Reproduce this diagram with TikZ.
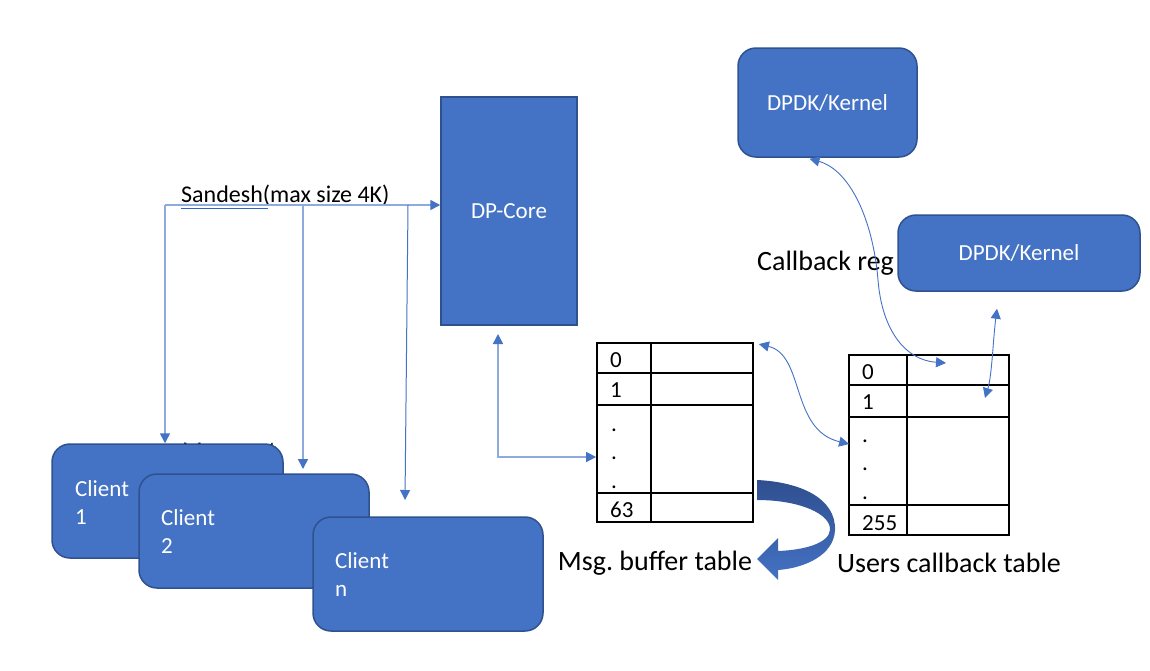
\documentclass[tikz,border=0pt]{standalone}
\usepackage{fontspec}
\setmainfont{Carlito}
\usetikzlibrary{arrows.meta,calc}
\frenchspacing
\definecolor{boxblue}{HTML}{4472C4}
\definecolor{boxedge}{HTML}{2F528F}
\definecolor{lineblue}{HTML}{8FAADC}
\definecolor{arrowblue}{HTML}{4472C4}
\definecolor{darkband}{HTML}{2F4F8F}
\definecolor{squiggle}{HTML}{2E64D0}
\tikzset{
  blk/.style={draw=boxedge, line width=1.5pt, fill=boxblue, text=white, font=\fontsize{23}{28}\selectfont, inner sep=0pt},
  rblk/.style={blk, rounded corners=18pt},
  wtext/.style={text=white, font=\fontsize{23}{28}\selectfont, inner sep=0pt, align=left},
  btext/.style={text=black, font=\fontsize{28}{34}\selectfont, inner sep=0pt},
  celltext/.style={text=black, font=\fontsize{23}{28}\selectfont, inner sep=0pt, anchor=base west},
  tbl/.style={draw=black, line width=1.8pt, inner sep=0pt},
  tblline/.style={draw=black, line width=1.8pt},
  tip/.style={-{Triangle[length=10pt,width=10pt,color=arrowblue]}},
  conn/.style={draw=lineblue, line width=1.5pt, tip},
  conndark/.style={draw=arrowblue, line width=1pt, tip},
  biconn/.style={draw=arrowblue, line width=0.9pt, {Triangle[length=10pt,width=10pt,color=arrowblue]}-{Triangle[length=10pt,width=10pt,color=arrowblue]}},
}
\begin{document}
\begin{tikzpicture}[x=1pt,y=-1pt]
\useasboundingbox (0,0) rectangle (1150,670);
\fill[white] (0,0) rectangle (1150,670);

% hidden text behind client 1
\node[btext, anchor=base west, font=\fontsize{24}{28}\selectfont] (msgsent) at (182,458) {Msg. sent};

% DP-Core
\node[blk, minimum width=136pt, minimum height=228pt] (dp) at (509,211) {DP-Core};

% DPDK boxes
\node[rblk, minimum width=179pt, minimum height=109pt] (k1) at (827.5,102.5) {DPDK/Kernel};
\node[rblk, minimum width=242pt, minimum height=76pt] (k2) at (1019,253) {DPDK/Kernel};

% Callback reg
\node[btext, anchor=west] (cbreg) at (757,263) {Callback reg};

% clients
\node[rblk, minimum width=231pt, minimum height=114pt] (c1) at (167.5,501) {};
\node[wtext, anchor=north west] (c1t) at (75,480) {Client\\1};
\node[rblk, minimum width=230pt, minimum height=114pt] (c2) at (254,531) {};
\node[wtext, anchor=north west] (c2t) at (161,509) {Client\\2};
\node[rblk, minimum width=230pt, minimum height=114pt] (cn) at (428,574) {};
\node[wtext, anchor=north west] (cnt) at (335,552) {Client\\n};

% Sandesh text and underline
\node[text=black, font=\fontsize{24}{28}\selectfont, inner sep=0pt, anchor=base west] (sand) at (181,202) {Sandesh(max size 4K)};
\draw[squiggle, line width=1.4pt] (181,208.5) -- (268,208.5);

% connectors from Sandesh
\coordinate (sx) at (165,205);
\coordinate (b2) at (303,205);
\coordinate (b2e) at (303,469);
\coordinate (b3) at (408,205);
\coordinate (b3e) at (405,500);
\draw[conn] (sx) -- (sx -| dp.west);
\draw[conn] (sx) -- (sx |- c1.north);
\draw[conn] (b2) -- (b2e);
\draw[conndark] (b3) -- (b3e);

% message buffer table
\node[tbl, minimum width=156pt, minimum height=179pt] (mt) at (675,432.5) {};
\draw[tblline] (651,343) -- (651,522);
\draw[tblline] (597,373) -- (753,373);
\draw[tblline] (597,405) -- (753,405);
\draw[tblline] (597,493) -- (753,493);
\node[celltext] (m0) at (610,367) {0};
\node[celltext] (m1) at (610,397) {1};
\node[celltext] (md1) at (611,431) {.};
\node[celltext] (md2) at (611,459) {.};
\node[celltext] (md3) at (611,488) {.};
\node[celltext] (m63) at (610,517) {63};

% users callback table
\node[tbl, minimum width=160pt, minimum height=180pt] (ut) at (929,445) {};
\draw[tblline] (907,355) -- (907,535);
\draw[tblline] (849,385) -- (1009,385);
\draw[tblline] (849,417) -- (1009,417);
\draw[tblline] (849,505) -- (1009,505);
\node[celltext] (u0) at (862,379) {0};
\node[celltext] (u1) at (862,409) {1};
\node[celltext] (ud1) at (862,442) {.};
\node[celltext] (ud2) at (862,470) {.};
\node[celltext] (ud3) at (862,499) {.};
\node[celltext] (u255) at (862,530) {255};

% DP-Core <-> msg table
\coordinate (dpa) at (498,334);
\draw[conn, {Triangle[length=10pt,width=10pt,color=arrowblue]}-{Triangle[length=10pt,width=10pt,color=arrowblue]}] (dpa) |- ($(mt.west)+(0,24.5)$);

% msg table <-> users table
\draw[biconn] ($(mt.north east)+(5,2)$) .. controls (805,355) and (790,430) .. ($(ut.west)+(1,-1)$);

% DPDK1 <-> users table row 0
\coordinate (r0) at (946,363);
\draw[biconn] ($(k1.south)+(-18,1)$) .. controls (850,170) and (873,220) .. (878,280) .. controls (882,330) and (905,360) .. (r0);

% DPDK2 <-> users table row 1
\coordinate (r1) at (985,398);
\draw[biconn] ($(k2.south)+(-22,17)$) .. controls (993,340) and (992,375) .. (r1);

% curved thick arrow
\path[top color=darkband, bottom color=boxblue, draw=none]
  (757,480) .. controls (800,482) and (836,498) .. (835,530)
  .. controls (834,555) and (805,568) .. (778,570)
  -- (778,580) -- (757,559) -- (778,538) -- (778,551)
  .. controls (805,550) and (829,543) .. (830,530)
  .. controls (831,514) and (800,500) .. (757,500) -- cycle;

% table labels
\node[btext] (mlab) at (655,563) {Msg. buffer table};
\node[btext] (ulab) at (949,563) {Users callback table};
\end{tikzpicture}
\end{document}
